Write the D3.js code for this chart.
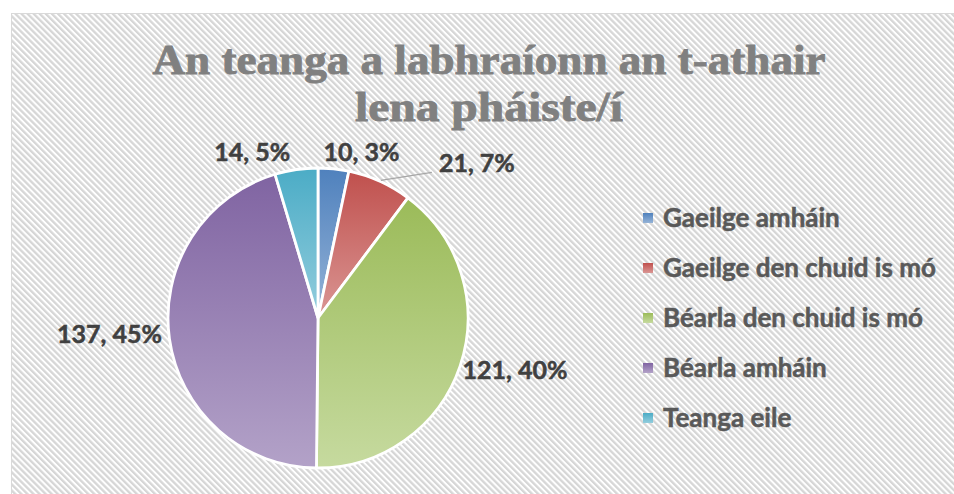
<!DOCTYPE html>
<html>
<head>
<meta charset="utf-8">
<script src="https://cdn.jsdelivr.net/npm/d3@7"></script>
<style>
  html, body { margin: 0; padding: 0; background: #ffffff; }
  svg { display: block; }
</style>
</head>
<body>
<svg id="chart" width="954" height="494"></svg>
<script>
// ---- data ----
const titleLines = ["An teanga a labhraíonn an t-athair", "lena pháiste/í"];
const categories = ["Gaeilge amháin", "Gaeilge den chuid is mó", "Béarla den chuid is mó", "Béarla amháin", "Teanga eile"];
const values = [10, 21, 121, 137, 14];
const percentLabels = ["3%", "7%", "40%", "45%", "5%"];
const baseColors = ["#4F81BD", "#C0504D", "#9BBB59", "#8064A2", "#4BACC6"];
const lightColors = ["#95B3D7", "#DA9694", "#C6DA9F", "#B3A2C8", "#93CDDD"];

// label nudges relative to the slice's outer mid-point (layout, not data)
const labelNudge = [[28, -8], [97, -9], [55, 13], [-60, 4], [-44, -9]];
const leaderFor = [false, true, false, false, false];

const W = 954, H = 494;
const svg = d3.select("#chart");
const defs = svg.append("defs");

// hatch pattern background
const pat = defs.append("pattern")
  .attr("id", "hatch").attr("patternUnits", "userSpaceOnUse")
  .attr("width", 4.3).attr("height", 4.3)
  .attr("patternTransform", "rotate(-45)");
pat.append("rect").attr("width", 4.3).attr("height", 4.3).attr("fill", "#ffffff");
pat.append("rect").attr("width", 2.3).attr("height", 4.3).attr("fill", "#d6d6d6");

svg.append("rect").attr("x", 11.5).attr("y", 13.5).attr("width", W).attr("height", H)
  .attr("fill", "url(#hatch)").attr("stroke", "#d9d9d9").attr("stroke-width", 1);

// gradients
baseColors.forEach((c, i) => {
  const g = defs.append("linearGradient").attr("id", "grad" + i)
    .attr("x1", 0).attr("y1", 0).attr("x2", 0).attr("y2", 1);
  g.append("stop").attr("offset", "0%").attr("stop-color", c);
  g.append("stop").attr("offset", "100%").attr("stop-color", lightColors[i]);
});

// title
const titleWidths = [673, 268];
titleLines.forEach((t, i) => {
  svg.append("text")
    .attr("x", 489).attr("y", 74 + i * 47)
    .attr("text-anchor", "middle")
    .attr("font-family", "'Liberation Serif', 'DejaVu Serif', serif")
    .attr("font-weight", "bold")
    .attr("font-size", 43)
    .attr("fill", "#808080")
    .attr("stroke", "#808080").attr("stroke-width", 0.9)
    .attr("textLength", titleWidths[i]).attr("lengthAdjust", "spacingAndGlyphs")
    .text(t);
});

// pie
const cx = 318, cy = 318, R = 150;
const pie = d3.pie().sort(null).value(d => d)(values);
const arc = d3.arc().innerRadius(0).outerRadius(R);

const g = svg.append("g").attr("transform", `translate(${cx},${cy})`);
g.selectAll("path.slice").data(pie).join("path")
  .attr("class", "slice")
  .attr("d", arc)
  .attr("fill", (d, i) => `url(#grad${i})`)
  .attr("stroke", "#ffffff")
  .attr("stroke-width", 2.8)
  .attr("stroke-linejoin", "round");

// labels
const fmt = (d, i) => `${values[i]}, ${percentLabels[i]}`;
pie.forEach((d, i) => {
  const a = (d.startAngle + d.endAngle) / 2;
  const px = Math.sin(a) * R, py = -Math.cos(a) * R;
  const lx = px + labelNudge[i][0], ly = py + labelNudge[i][1];
  if (leaderFor[i]) {
    g.append("path")
      .attr("d", d3.line()([[px + 1, py - 1], [lx - 45, ly]]))
      .attr("fill", "none").attr("stroke", "#a6a6a6").attr("stroke-width", 1.3);
  }
  g.append("text")
    .attr("x", lx).attr("y", ly)
    .attr("text-anchor", "middle")
    .attr("font-family", "Lato, 'Open Sans', sans-serif")
    .attr("font-weight", "bold")
    .attr("font-size", 25)
    .attr("fill", "#404040")
    .attr("stroke", "#404040").attr("stroke-width", 0.5)
    .text(fmt(d, i));
});

// legend
const legend = svg.append("g").attr("transform", "translate(643,227)");
const rowY = d3.scalePoint().domain(categories).range([0, 200]);
categories.forEach((c, i) => {
  const row = legend.append("g").attr("transform", `translate(0,${rowY(c)})`);
  row.append("rect").attr("x", 0).attr("y", -14).attr("width", 10).attr("height", 10)
    .attr("fill", `url(#grad${i})`);
  row.append("text").attr("x", 20).attr("y", 0)
    .attr("font-family", "Lato, 'Open Sans', sans-serif")
    .attr("font-weight", "bold")
    .attr("font-size", 26)
    .attr("fill", "#595959")
    .attr("stroke", "#595959").attr("stroke-width", 0.5)
    .text(c);
});
</script>
</body>
</html>
